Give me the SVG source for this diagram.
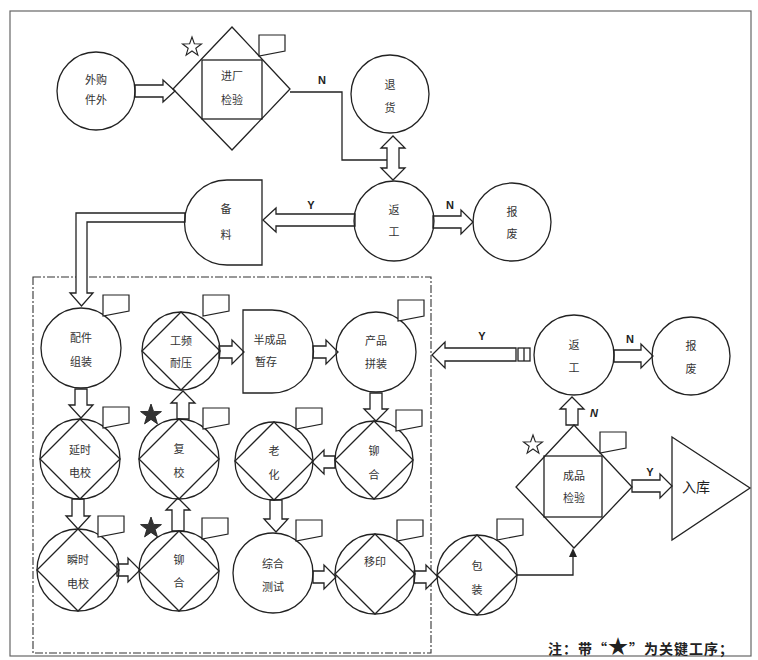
<svg xmlns="http://www.w3.org/2000/svg" xmlns:xlink="http://www.w3.org/1999/xlink" width="758" height="660" viewBox="0 0 758 660">
<style>
.s{fill:none;stroke:#222;stroke-width:1.3}
.w{fill:#fff;stroke:#222;stroke-width:1.3}
.t{font-family:"Noto Sans CJK SC","Noto Sans",sans-serif;font-size:11px;fill:#333;text-anchor:middle}
.l{font-family:"Liberation Sans",Arial,sans-serif;font-size:11px;font-weight:bold;fill:#222;text-anchor:middle}
.f{fill:#fff;stroke:#222;stroke-width:1.2}
.so{fill:#fff;stroke:#222;stroke-width:1.1}
.sf{fill:#333;stroke:#222;stroke-width:0.8}
</style>
<defs>
<path id="flag" d="M0,0H26V16L0,21Z"/>
<polygon id="star" points="0,-10 2.35,-3.24 9.51,-3.09 3.80,1.24 5.88,8.09 0,4 -5.88,8.09 -3.80,1.24 -9.51,-3.09 -2.35,-3.24"/>
</defs>
<rect x="0" y="0" width="758" height="660" fill="#fff"/>
<rect x="10" y="11" width="741" height="645" fill="none" stroke="#666" stroke-width="1.2"/>
<rect x="33" y="277" width="398" height="376" fill="none" stroke="#333" stroke-width="1.1" stroke-dasharray="8,2,2,2"/>

<g id="connectors">
<polygon class="w" points="135,85 163,85 163,80 175,91 163,102 163,97 135,97"/>
<polyline class="s" points="290,92 342,92 342,160 387,160"/>
<polygon class="w" points="393,136 405,148 399,148 399,168 405,168 393,180 381,168 387,168 387,148 381,148"/>
<polygon class="w" points="433,216 461,216 461,210 473,222 461,234 461,228 433,228"/>
<polygon class="w" points="355,214 276,214 276,208 263,220 276,232 276,226 355,226"/>
<path class="w" d="M185,213H76V293H70L81.5,306L93,293H87V222H185Z"/>
<polygon class="w" points="219,346 232,346 232,340 244,352 232,364 232,358 219,358"/>
<polygon class="w" points="313,346 326,346 326,340 338,352 326,364 326,358 313,358"/>
<polygon class="w" points="75,389 87,389 87,405 93,405 81,418 69,405 75,405"/>
<polygon class="w" points="177,419 177,403 171,403 183,391 195,403 189,403 189,419"/>
<polygon class="w" points="370,393 382,393 382,409 388,409 376,421 364,409 370,409"/>
<polygon class="w" points="335,456 324,456 324,450 312,462 324,474 324,468 335,468"/>
<polygon class="w" points="72,499 84,499 84,516 90,516 78,529 66,516 72,516"/>
<polygon class="w" points="117,564 128,564 128,558 140,570 128,582 128,576 117,576"/>
<polygon class="w" points="172,531 172,510 166,510 178,498 190,510 184,510 184,531"/>
<polygon class="w" points="270,500 282,500 282,519 288,519 276,532 264,519 270,519"/>
<polygon class="w" points="313,571 324,571 324,565 336,577 324,589 324,583 313,583"/>
<polygon class="w" points="414,571 426,571 426,565 438,577 426,589 426,583 414,583"/>
<polyline class="s" points="517,575 573,575 573,552"/>
<polygon fill="#222" points="569,557 573,548 577,557"/>
<polygon class="w" points="566,425 566,409 560,409 572,397 584,409 578,409 578,425"/>
<polygon class="w" points="516,348 445,348 445,342 432,355 445,368 445,361 516,361"/>
<rect class="w" x="518" y="348" width="12" height="13"/>
<line class="s" x1="524" y1="348" x2="524" y2="361"/>
<polygon class="w" points="614,350 641,350 641,344 653,356 641,368 641,362 614,362"/>
<polygon class="w" points="632,480 660,480 660,474 672,486 660,498 660,492 632,492"/>
<text class="l" x="322" y="84">N</text>
<text class="l" x="311" y="209">Y</text>
<text class="l" x="450" y="209">N</text>
<text class="l" x="482" y="340">Y</text>
<text class="l" x="630" y="343">N</text>
<text class="l" x="594" y="417" font-style="italic">N</text>
<text class="l" x="650" y="476">Y</text>
</g>

<g id="waigou">
<circle class="s" cx="96" cy="91" r="39"/>
<text class="t" x="96" y="84">外购</text>
<text class="t" x="96" y="104">件外</text>
</g>
<g id="jinchang">
<polygon class="s" points="232,27 290,89 232,150 173,89"/>
<rect class="s" x="202" y="60" width="60" height="59"/>
<use href="#star" class="so" transform="translate(192,47)"/>
<use href="#flag" class="f" x="259" y="35"/>
<text class="t" x="232" y="80">进厂</text>
<text class="t" x="232" y="104">检验</text>
</g>
<g id="tuihuo">
<circle class="s" cx="390" cy="94" r="39"/>
<text class="t" x="390" y="89">退</text>
<text class="t" x="390" y="112">货</text>
</g>
<g id="fangong1">
<circle class="s" cx="394" cy="221" r="40"/>
<text class="t" x="394" y="214">返</text>
<text class="t" x="394" y="236">工</text>
</g>
<g id="baofei1">
<circle class="s" cx="512" cy="222" r="39"/>
<text class="t" x="512" y="216">报</text>
<text class="t" x="512" y="238">废</text>
</g>
<g id="beiliao">
<path class="s" d="M262,180H227A42.5,42.5 0 0 0 227,265H262Z"/>
<text class="t" x="226" y="213">备</text>
<text class="t" x="226" y="239">料</text>
</g>
<g id="peijian">
<circle class="s" cx="81" cy="348" r="40"/>
<use href="#flag" class="f" x="103" y="295"/>
<text class="t" x="81" y="342">配件</text>
<text class="t" x="81" y="366">组装</text>
</g>
<g id="gongpin">
<circle class="s" cx="181" cy="351" r="39"/>
<polygon class="s" points="181,312 220,351 181,390 142,351"/>
<use href="#flag" class="f" x="203" y="295"/>
<text class="t" x="181" y="345">工频</text>
<text class="t" x="181" y="367">耐压</text>
</g>
<g id="banchengpin">
<path class="s" d="M243,310H272A41.5,41.5 0 0 1 272,393H243Z"/>
<text class="t" x="270" y="344">半成品</text>
<text class="t" x="266" y="366">暂存</text>
</g>
<g id="chanpin">
<circle class="s" cx="376" cy="352" r="40"/>
<use href="#flag" class="f" x="398" y="300"/>
<text class="t" x="376" y="345">产品</text>
<text class="t" x="376" y="368">拼装</text>
</g>
<g id="yanshi">
<circle class="s" cx="80" cy="459" r="40"/>
<polygon class="s" points="80,419 120,459 80,499 40,459"/>
<use href="#flag" class="f" x="103" y="407"/>
<text class="t" x="80" y="454">延时</text>
<text class="t" x="80" y="477">电校</text>
</g>
<g id="fujiao">
<circle class="s" cx="179" cy="459" r="40"/>
<polygon class="s" points="179,419 219,459 179,499 139,459"/>
<use href="#star" class="sf" transform="translate(151,415) scale(1.1)"/>
<use href="#flag" class="f" x="203" y="408"/>
<text class="t" x="179" y="453">复</text>
<text class="t" x="179" y="477">校</text>
</g>
<g id="laohua">
<circle class="s" cx="274" cy="461" r="39"/>
<polygon class="s" points="274,422 313,461 274,500 235,461"/>
<use href="#flag" class="f" x="296" y="408"/>
<text class="t" x="274" y="455">老</text>
<text class="t" x="274" y="479">化</text>
</g>
<g id="maohe1">
<circle class="s" cx="374" cy="460" r="39"/>
<polygon class="s" points="374,421 413,460 374,499 335,460"/>
<use href="#flag" class="f" x="396" y="410"/>
<text class="t" x="374" y="455">铆</text>
<text class="t" x="374" y="479">合</text>
</g>
<g id="shunshi">
<circle class="s" cx="78" cy="570" r="41"/>
<polygon class="s" points="78,529 119,570 78,611 37,570"/>
<use href="#flag" class="f" x="98" y="516"/>
<text class="t" x="78" y="564">瞬时</text>
<text class="t" x="78" y="588">电校</text>
</g>
<g id="maohe2">
<circle class="s" cx="179" cy="571" r="40"/>
<polygon class="s" points="179,531 219,571 179,611 139,571"/>
<use href="#star" class="sf" transform="translate(151,528) scale(1.1)"/>
<use href="#flag" class="f" x="202" y="518"/>
<text class="t" x="179" y="564">铆</text>
<text class="t" x="179" y="587">合</text>
</g>
<g id="zonghe">
<circle class="s" cx="273" cy="573" r="40"/>
<use href="#flag" class="f" x="296" y="520"/>
<text class="t" x="273" y="568">综合</text>
<text class="t" x="273" y="591">测试</text>
</g>
<g id="yiyin">
<circle class="s" cx="375" cy="574" r="40"/>
<polygon class="s" points="375,534 415,574 375,614 335,574"/>
<use href="#flag" class="f" x="397" y="520"/>
<text class="t" x="375" y="566">移印</text>
</g>
<g id="baozhuang">
<circle class="s" cx="477" cy="575" r="40"/>
<polygon class="s" points="477,535 517,575 477,615 437,575"/>
<use href="#flag" class="f" x="497" y="519"/>
<text class="t" x="477" y="570">包</text>
<text class="t" x="477" y="594">装</text>
</g>
<g id="chengpin">
<polygon class="s" points="574,425 632,487 574,548 516,487"/>
<rect class="s" x="544" y="456" width="58" height="61"/>
<use href="#star" class="so" transform="translate(533,445)"/>
<use href="#flag" class="f" x="600" y="432"/>
<text class="t" x="574" y="480">成品</text>
<text class="t" x="574" y="502">检验</text>
</g>
<g id="fangong2">
<circle class="s" cx="574" cy="355" r="40"/>
<text class="t" x="574" y="349">返</text>
<text class="t" x="574" y="372">工</text>
</g>
<g id="baofei2">
<circle class="s" cx="691" cy="356" r="39"/>
<text class="t" x="691" y="350">报</text>
<text class="t" x="691" y="373">废</text>
</g>
<g id="ruku">
<polygon class="s" points="672,437 750,488 672,540"/>
<text class="t" x="696" y="492" style="font-size:14px;fill:#222">入库</text>
</g>
<g id="note">
<text x="548" y="654" style="font-family:'Noto Sans CJK SC',sans-serif;font-size:14px;font-weight:bold;fill:#222;letter-spacing:1px">注：带“<tspan style="font-size:20px">★</tspan>”为关键工序；</text>
</g>
</svg>
